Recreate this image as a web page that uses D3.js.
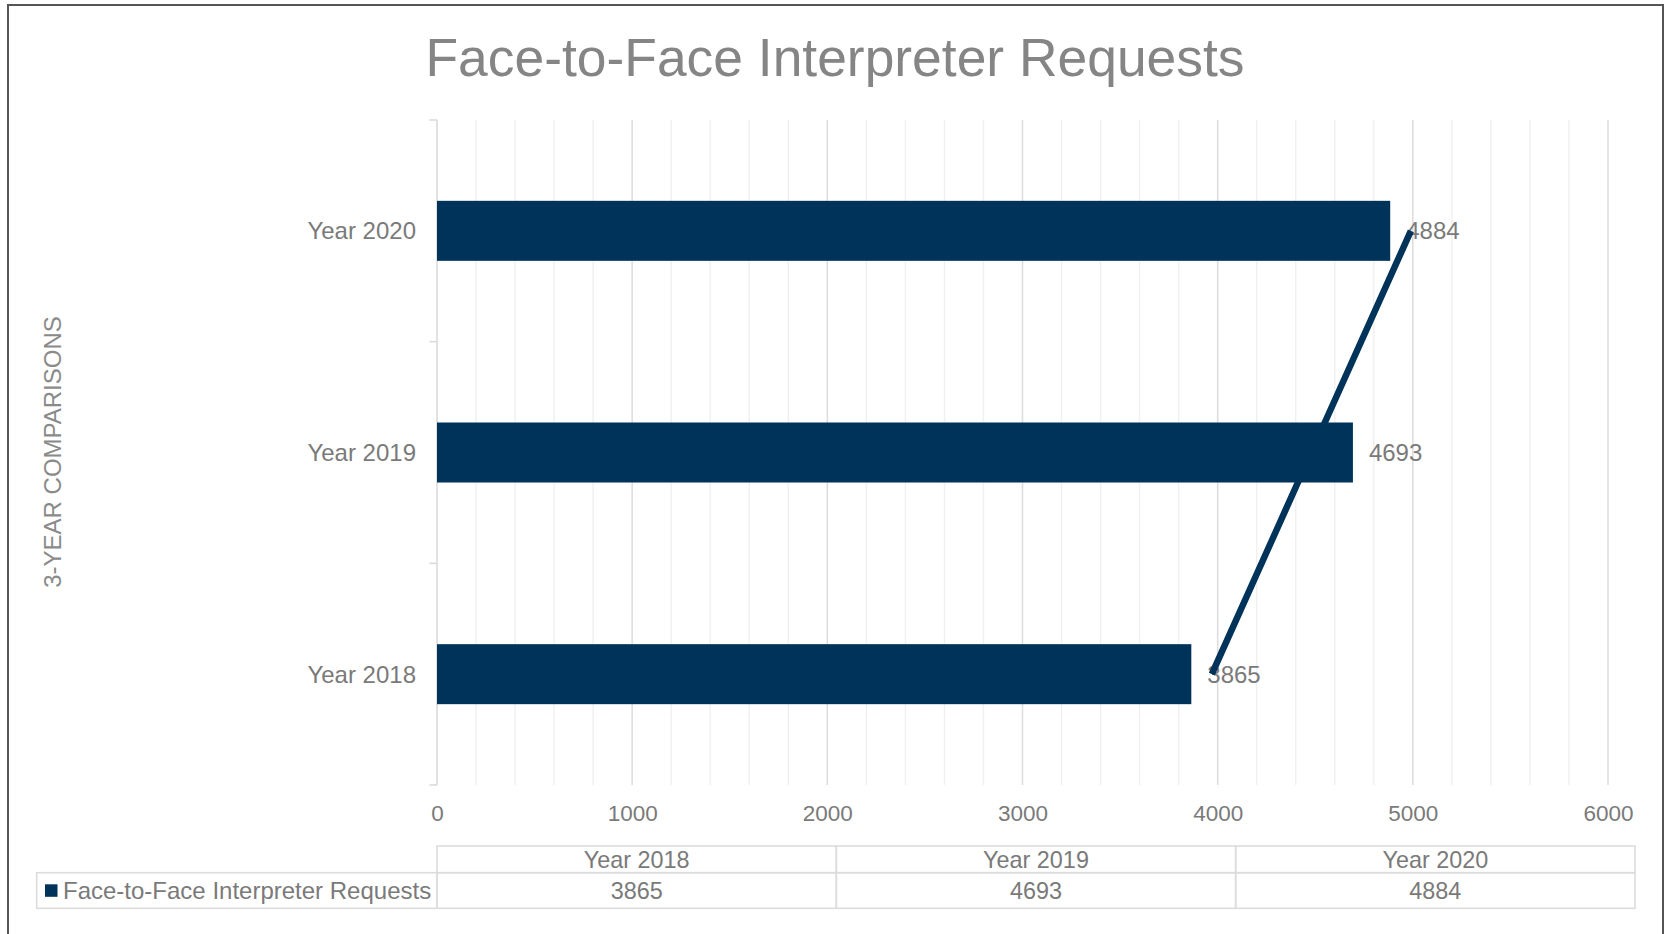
<!DOCTYPE html>
<html>
<head>
<meta charset="utf-8">
<script src="https://cdn.jsdelivr.net/npm/d3@7"></script>
<style>
  html, body { margin: 0; padding: 0; background: #fff; }
  svg { display: block; font-family: "Liberation Sans", Arial, sans-serif; }
</style>
</head>
<body>
<div id="chart"></div>
<script>
// data
const categories = ['Year 2018', 'Year 2019', 'Year 2020'];
const requests = [3865, 4693, 4884];
const trendValues = [3970, 4480, 4990]; // linear trendline as drawn
const seriesName = 'Face-to-Face Interpreter Requests';
const xTicks = [0, 1000, 2000, 3000, 4000, 5000, 6000];

const width = 1667;
const height = 934;
const navy = '#003359';
const textGray = '#7a7a7a';

const plot = { left: 437, right: 1608, top: 120, bottom: 785 };
const table = { left: 437, right: 1635, top: 846, mid: 872.7, bottom: 908.3, legendLeft: 36.7 };

const svg = d3.select('#chart').append('svg').attr('width', width).attr('height', height);

// chart frame (bottom edge runs off the canvas)
svg
  .append('path')
  .attr('d', `M8,${height + 10}V5H1663V${height + 10}`)
  .attr('fill', 'none')
  .attr('stroke', '#555')
  .attr('stroke-width', 2);

// title
svg
  .append('text')
  .attr('x', 835)
  .attr('y', 76)
  .attr('text-anchor', 'middle')
  .style('font-size', '53.4px')
  .style('fill', '#858585')
  .text(seriesName);

const x = d3.scaleLinear().domain([0, 6000]).range([plot.left, plot.right]);

// category slots, top to bottom 2020 -> 2018
const yCat = d3
  .scaleBand()
  .domain(categories.slice().reverse())
  .range([plot.top, plot.bottom])
  .padding(0);

const barFrac = 0.2707;
const barH = yCat.bandwidth() * barFrac;
const barY = (c) => yCat(c) + (yCat.bandwidth() - barH) / 2;
const midY = (c) => yCat(c) + yCat.bandwidth() / 2;

// minor gridlines
svg
  .append('g')
  .selectAll('line')
  .data(d3.range(200, 6001, 200).filter((v) => v % 1000 !== 0))
  .enter()
  .append('line')
  .attr('x1', (d) => x(d))
  .attr('x2', (d) => x(d))
  .attr('y1', plot.top)
  .attr('y2', plot.bottom)
  .attr('stroke', '#f0f0f0')
  .attr('stroke-width', 1.4);

// major gridlines
svg
  .append('g')
  .selectAll('line')
  .data(xTicks.slice(1))
  .enter()
  .append('line')
  .attr('x1', (d) => x(d))
  .attr('x2', (d) => x(d))
  .attr('y1', plot.top)
  .attr('y2', plot.bottom)
  .attr('stroke', '#dcdcdc')
  .attr('stroke-width', 1.5);

// category axis line + boundary ticks
const catAxis = svg.append('g').attr('stroke', '#d9d9d9').attr('stroke-width', 1.5);
catAxis.append('line').attr('x1', plot.left).attr('x2', plot.left).attr('y1', plot.top).attr('y2', plot.bottom);
catAxis
  .selectAll('.tk')
  .data(yCat.domain().map((c) => yCat(c)).concat([plot.bottom]))
  .enter()
  .append('line')
  .attr('class', 'tk')
  .attr('x1', plot.left - 7.5)
  .attr('x2', plot.left)
  .attr('y1', (d) => d)
  .attr('y2', (d) => d);

// category labels
svg
  .append('g')
  .selectAll('text')
  .data(categories)
  .enter()
  .append('text')
  .attr('x', 416)
  .attr('y', (d) => midY(d))
  .attr('dy', '0.35em')
  .attr('text-anchor', 'end')
  .style('font-size', '24px')
  .style('fill', textGray)
  .text((d) => d);

// value axis labels
const xAxis = svg
  .append('g')
  .attr('transform', `translate(0,${plot.bottom})`)
  .call(d3.axisBottom(x).tickValues(xTicks).tickSize(0).tickPadding(20).tickFormat(d3.format('d')));
xAxis.select('.domain').remove();
xAxis.selectAll('text').style('font-size', '22.5px').style('fill', textGray).style('font-family', 'Liberation Sans, Arial, sans-serif');

// axis title
svg
  .append('text')
  .attr('transform', 'translate(61,452) rotate(-90)')
  .attr('text-anchor', 'middle')
  .style('font-size', '24px')
  .style('fill', '#8a8a8a')
  .text('3-YEAR COMPARISONS');

// bars
svg
  .append('g')
  .selectAll('rect')
  .data(categories)
  .enter()
  .append('rect')
  .attr('x', x(0))
  .attr('y', (d) => barY(d))
  .attr('width', (d, i) => x(requests[i]) - x(0))
  .attr('height', barH)
  .attr('fill', navy);

// data labels
svg
  .append('g')
  .selectAll('text')
  .data(categories)
  .enter()
  .append('text')
  .attr('x', (d, i) => x(requests[i]) + 16)
  .attr('y', (d) => midY(d))
  .attr('dy', '0.35em')
  .style('font-size', '24px')
  .style('fill', textGray)
  .text((d, i) => requests[i]);

// trendline
const trend = d3
  .line()
  .x((d) => x(d.v))
  .y((d) => midY(d.c));
svg
  .append('path')
  .datum(categories.map((c, i) => ({ c, v: trendValues[i] })))
  .attr('d', trend)
  .attr('fill', 'none')
  .attr('stroke', navy)
  .attr('stroke-width', 6.5);

// data table
const col = d3.scaleBand().domain(categories).range([table.left, table.right]);
const tbl = svg.append('g');
const gridStroke = '#dcdcdc';

tbl
  .append('rect')
  .attr('x', table.legendLeft)
  .attr('y', table.mid)
  .attr('width', table.left - table.legendLeft)
  .attr('height', table.bottom - table.mid)
  .attr('fill', 'none')
  .attr('stroke', gridStroke)
  .attr('stroke-width', 1.6);

categories.forEach((c, i) => {
  tbl
    .append('rect')
    .attr('x', col(c))
    .attr('y', table.top)
    .attr('width', col.bandwidth())
    .attr('height', table.mid - table.top)
    .attr('fill', 'none')
    .attr('stroke', gridStroke)
    .attr('stroke-width', 1.6);
  tbl
    .append('rect')
    .attr('x', col(c))
    .attr('y', table.mid)
    .attr('width', col.bandwidth())
    .attr('height', table.bottom - table.mid)
    .attr('fill', 'none')
    .attr('stroke', gridStroke)
    .attr('stroke-width', 1.6);
  tbl
    .append('text')
    .attr('x', col(c) + col.bandwidth() / 2)
    .attr('y', 859.5)
    .attr('dy', '0.35em')
    .attr('text-anchor', 'middle')
    .style('font-size', '23.4px')
    .style('fill', textGray)
    .text(c);
  tbl
    .append('text')
    .attr('x', col(c) + col.bandwidth() / 2)
    .attr('y', 891)
    .attr('dy', '0.35em')
    .attr('text-anchor', 'middle')
    .style('font-size', '23.4px')
    .style('fill', textGray)
    .text(requests[i]);
});

// legend key + series name
tbl.append('rect').attr('x', 45).attr('y', 884.3).attr('width', 12.5).attr('height', 12.5).attr('fill', navy);
tbl
  .append('text')
  .attr('x', 63)
  .attr('y', 891)
  .attr('dy', '0.35em')
  .style('font-size', '24px')
  .style('fill', textGray)
  .text(seriesName);
</script>
</body>
</html>
